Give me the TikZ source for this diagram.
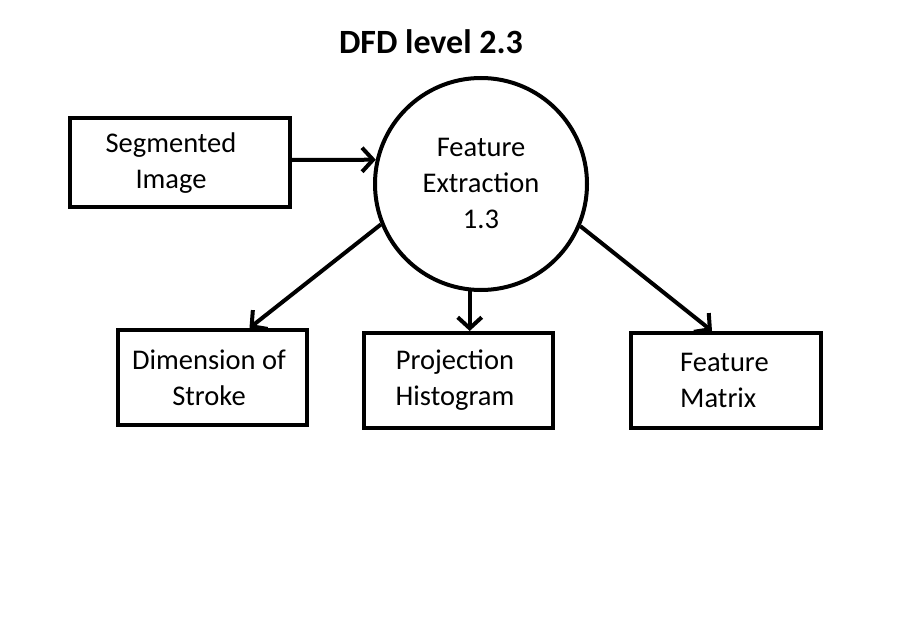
\documentclass[tikz,border=0pt]{standalone}
\usepackage{fontspec}
\setmainfont{Carlito}
\usetikzlibrary{arrows.meta,calc}
\begin{document}
\begin{tikzpicture}[x=1pt,y=-1pt,
  box/.style={draw,line width=4pt,rectangle,inner sep=0pt},
  lbl/.style={font=\fontsize{28.5}{36}\selectfont,align=center,inner sep=0pt},
  flow/.style={line width=4pt,-{Straight Barb[length=11pt,width=24pt,line width=4pt]}},
]
\useasboundingbox[fill=white] (0,0) rectangle (897,618);
\node[font=\bfseries\fontsize{34}{40}\selectfont,inner sep=0pt] (title) at (431,42) {DFD level 2.3};
\node[box,minimum width=220pt,minimum height=89pt] (seg) at (180,162.5) {};
\node[lbl] (segt) at (171,163) {Segmented\\Image};
\node[draw,circle,line width=4pt,minimum size=212pt,inner sep=0pt] (circ) at (481,184) {};
\node[lbl] (circt) at (481,183) {Feature\\Extraction\\1.3};
\node[box,minimum width=189pt,minimum height=95pt] (dim) at (212.5,377.5) {};
\node[lbl] (dimt) at (209,378) {Dimension of\\Stroke};
\node[box,minimum width=189pt,minimum height=95pt] (proj) at (458.5,380.5) {};
\node[lbl] (projt) at (455,380) {Projection\\Histogram};
\node[box,minimum width=190pt,minimum height=95pt] (feat) at (726,380.5) {};
\node[lbl,align=left,anchor=west] (featt) at (680,380) {Feature\\Matrix};
\draw[flow] (seg.east |- 0,160) -- (circ.167);
\draw[flow] (circ.202) -- ($(dim.north)+(37,0)$);
\draw[flow] (circ.264) -- (circ.264 |- proj.north);
\draw[flow] (circ.-23) -- ($(feat.north)+(-14,0)$);
\end{tikzpicture}
\end{document}
